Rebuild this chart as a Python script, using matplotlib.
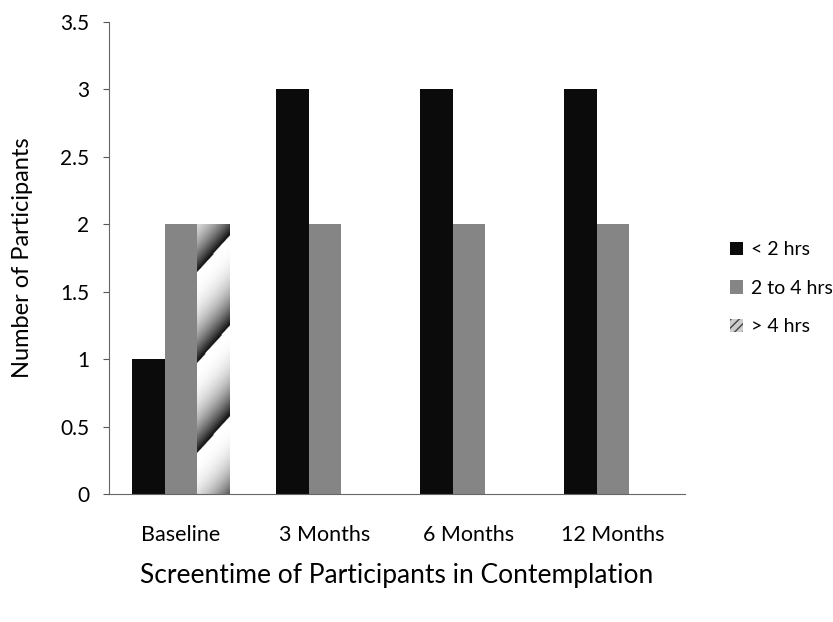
import numpy as np
import matplotlib
matplotlib.use("Agg")
import matplotlib.pyplot as plt
from matplotlib.patches import Patch

categories = ["Baseline", "3 Months", "6 Months", "12 Months"]
series_names = ["< 2 hrs", "2 to 4 hrs", "> 4 hrs"]
lt2 = [1, 3, 3, 3]
two_to_four = [2, 2, 2, 2]
gt4 = [2, 0, 0, 0]
yticks = [0, 0.5, 1, 1.5, 2, 2.5, 3, 3.5]
ytick_labels = ["0", "0.5", "1", "1.5", "2", "2.5", "3", "3.5"]

plt.rcParams['font.family'] = ['Lato', 'DejaVu Sans']

fig = plt.figure(figsize=(8.33, 6.22), dpi=100)
ax = fig.add_axes([0.1309, 0.2058, 0.6915, 0.7588])

x = np.arange(len(categories))
w = 0.225
b1 = ax.bar(x - w, lt2, w, color="#0b0b0b", label=series_names[0])
b2 = ax.bar(x, two_to_four, w, color="#858585", label=series_names[1])
b3 = ax.bar(x + w, gt4, w, color="#e0e0e0", linewidth=0, label=series_names[2])

# gradient striped fill for the "> 4 hrs" bars
for p in b3.patches:
    h = p.get_height()
    if h <= 0:
        continue
    x0, x1 = p.get_x(), p.get_x() + p.get_width()
    ny, nx = 300, 40
    yy, xx = np.mgrid[0:ny, 0:nx]
    v = h * (yy + 0.5) / ny
    u = (xx + 0.5) / nx
    period = 0.67
    phase = (v - 0.30 - 0.28 * u) / period
    dark = 1 - (phase - np.floor(phase))
    dark = dark ** 2.5 * 0.95
    im = ax.imshow(dark, cmap="gray_r", vmin=0, vmax=1, origin="lower",
                   extent=[x0, x1, 0, h], aspect="auto", zorder=2,
                   interpolation="bilinear")
    im.set_clip_path(p)

ax.set_xlim(-0.5, len(categories) - 0.5)
ax.set_ylim(0, 3.5)
ax.set_yticks(yticks)
ax.set_yticklabels(ytick_labels)
ax.set_xticks(x)
ax.set_xticklabels(categories)
ax.tick_params(axis="x", length=0, pad=22, labelsize=15.5)
ax.tick_params(axis="y", length=4, width=0.8, pad=10, labelsize=15, color="#555555")

for s in ["top", "right"]:
    ax.spines[s].set_visible(False)
ax.spines["left"].set_color("#666666")
ax.spines["bottom"].set_color("#666666")
ax.spines["left"].set_linewidth(0.8)
ax.spines["bottom"].set_linewidth(0.8)

ax.set_ylabel("Number of Participants", fontsize=17, labelpad=20)
ax.set_xlabel("Screentime of Participants in Contemplation", fontsize=19, labelpad=13)

handles = [Patch(facecolor="#0b0b0b"), Patch(facecolor="#858585"),
           Patch(facecolor="#cccccc", hatch="////", edgecolor="#444444", linewidth=0)]
fig.legend(handles, series_names, loc="upper left", bbox_to_anchor=(0.855, 0.64),
           frameon=False, fontsize=14, handlelength=0.7, handleheight=0.7,
           handletextpad=0.4, labelspacing=1.1)

fig.savefig("out.png", dpi=100)
